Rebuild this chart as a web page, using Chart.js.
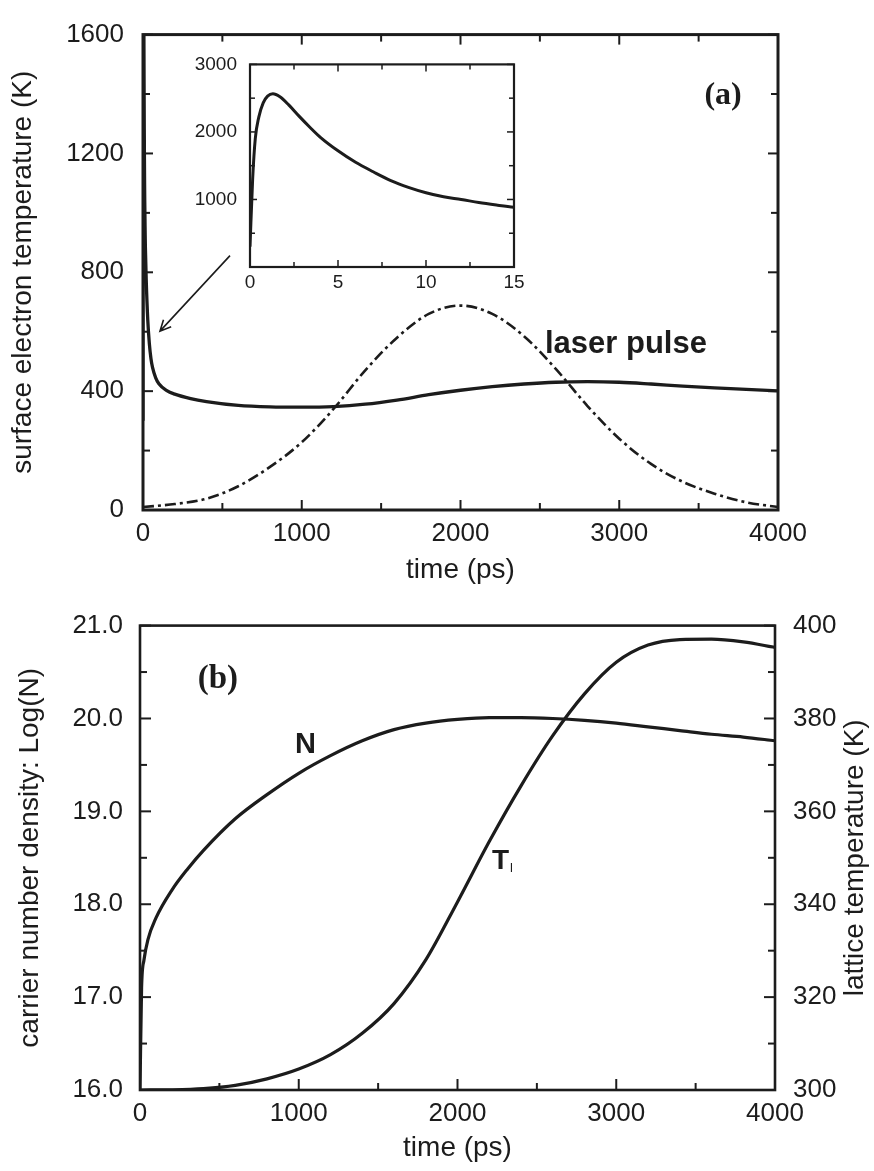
<!DOCTYPE html>
<html>
<head>
<meta charset="utf-8">
<script src="https://cdn.jsdelivr.net/npm/chart.js@4.4.0/dist/chart.umd.min.js"></script>
<style>
  html, body { margin: 0; padding: 0; background: #fff; }
  #page { position: relative; width: 874px; height: 1171px; overflow: hidden; }
  canvas { position: absolute; }
  #chartA { left: 0; top: 0; }
  #chartInset { left: 170px; top: 40px; }
  #chartB { left: 0; top: 592px; }
</style>
</head>
<body>
<div id="page">
  <canvas id="chartA" width="874" height="592"></canvas>
  <canvas id="chartInset" width="370" height="270"></canvas>
  <canvas id="chartB" width="874" height="579"></canvas>
</div>
<script>
// PANEL (a): SURFACE ELECTRON TEMPERATURE (K) VS TIME (ps)
// the inset is the first 15 ps of the same curve
const electronTime = [0, 0.15, 0.3, 0.5, 0.75, 1, 1.3, 1.7, 2.2, 2.8, 3.4, 4, 5, 6, 7, 8, 9, 10, 11, 12, 13, 14, 15, 20, 30, 40, 50, 60, 80, 100, 150, 200, 300, 400, 600, 800, 1000, 1200, 1400, 1600, 1800, 2000, 2200, 2400, 2600, 2800, 3000, 3200, 3400, 3600, 3800, 4000]
const electronTemp = [300, 1300, 1900, 2220, 2430, 2530, 2565, 2520, 2400, 2230, 2070, 1920, 1720, 1550, 1410, 1280, 1180, 1100, 1040, 1000, 955, 918, 885, 780, 640, 560, 510, 480, 445, 425, 402, 390, 375, 365, 352, 347, 346, 348, 356, 370, 388, 403, 415, 424, 430, 432, 430, 424, 417, 411, 406, 401]

// laser pulse (dash-dot), drawn on the same temperature axis
const pulseTime = [0, 200, 400, 600, 800, 1000, 1200, 1400, 1600, 1800, 2000, 2200, 2400, 2600, 2800, 3000, 3200, 3400, 3600, 3800, 4000]
const pulseValue = [10, 20, 38, 80, 145, 228, 340, 470, 580, 660, 688, 660, 585, 475, 350, 240, 155, 95, 55, 26, 10]

// PANEL (b): CARRIER DENSITY Log(N) (left) AND LATTICE TEMPERATURE (right)
const densityTime = [0, 10, 25, 50, 100, 200, 300, 400, 600, 800, 1000, 1200, 1400, 1600, 1800, 2000, 2200, 2400, 2600, 2800, 3000, 3200, 3400, 3600, 3800, 4000]
const densityLog = [16.0, 17.1, 17.4, 17.62, 17.85, 18.15, 18.38, 18.58, 18.92, 19.18, 19.41, 19.6, 19.76, 19.88, 19.95, 19.99, 20.01, 20.01, 20.0, 19.98, 19.95, 19.91, 19.87, 19.83, 19.8, 19.76]

const latticeTime = [0, 200, 400, 600, 800, 1000, 1200, 1400, 1600, 1800, 2000, 2200, 2400, 2600, 2800, 3000, 3200, 3400, 3600, 3800, 4000]
const latticeTemp = [300, 300.05, 300.3, 301, 302.4, 304.5, 307.6, 312.2, 318.6, 328, 340.5, 353.5, 365.5, 376.3, 385.3, 392.1, 395.8, 397, 397.1, 396.5, 395.3]

// TICK LABELS
const timeTicks = [0, 1000, 2000, 3000, 4000]
const electronTicks = [0, 400, 800, 1200, 1600]
const insetTimeTicks = [0, 5, 10, 15]
const insetTempTicks = [1000, 2000, 3000]
const densityTicks = [16, 17, 18, 19, 20, 21]
const latticeTicks = [300, 320, 340, 360, 380, 400]

const ink = "#1c1c1c"
Chart.defaults.font.family = "'Liberation Sans', Arial, sans-serif"
Chart.defaults.color = ink
Chart.defaults.animation = false

const toPoints = (xs, ys) => xs.map((x, i) => ({ x: x, y: ys[i] }))

// FRAME + INWARD MAJOR / MINOR TICKS
const frameTicks = {
  id: "frameTicks",
  afterDatasetsDraw(chart, args, opts) {
    const { ctx, chartArea: a } = chart
    ctx.save()
    ctx.strokeStyle = ink
    ctx.lineWidth = opts.width
    ctx.strokeRect(a.left, a.top, a.right - a.left, a.bottom - a.top)
    ctx.lineWidth = opts.tickWidth
    opts.marks.forEach((m) => {
      const s = chart.scales[m.scale]
      for (let v = s.min; v <= s.max + 1e-9; v += m.minor) {
        const r = v / m.major
        const len = Math.abs(r - Math.round(r)) < 1e-6 ? opts.majorLen : opts.minorLen
        const p = s.getPixelForValue(v)
        ctx.beginPath()
        if (m.side === "bottom") { ctx.moveTo(p, a.bottom); ctx.lineTo(p, a.bottom - len) }
        if (m.side === "top") { ctx.moveTo(p, a.top); ctx.lineTo(p, a.top + len) }
        if (m.side === "left") { ctx.moveTo(a.left, p); ctx.lineTo(a.left + len, p) }
        if (m.side === "right") { ctx.moveTo(a.right, p); ctx.lineTo(a.right - len, p) }
        ctx.stroke()
      }
    })
    ctx.restore()
  },
}

// TEXT NOTES, ARROW, RIGHT AXIS TITLE
const notes = {
  id: "notes",
  afterDraw(chart, args, opts) {
    const ctx = chart.ctx
    ctx.save()
    ctx.fillStyle = ink
    ctx.strokeStyle = ink
    ;(opts.items || []).forEach((n) => {
      const x = chart.scales.x.getPixelForValue(n.x)
      const y = chart.scales.y.getPixelForValue(n.y)
      ctx.font = n.font
      ctx.textAlign = n.align || "left"
      ctx.textBaseline = n.baseline || "alphabetic"
      ctx.fillText(n.text, x, y)
      if (n.sub) {
        const w = ctx.measureText(n.text).width
        ctx.font = n.subFont
        ctx.fillText(n.sub, x + w + 1, y + 3)
      }
    })
    if (opts.arrow) {
      const w = opts.arrow
      const x1 = chart.scales.x.getPixelForValue(w.from[0])
      const y1 = chart.scales.y.getPixelForValue(w.from[1])
      const x2 = chart.scales.x.getPixelForValue(w.to[0])
      const y2 = chart.scales.y.getPixelForValue(w.to[1])
      const ang = Math.atan2(y2 - y1, x2 - x1)
      ctx.lineWidth = 1.6
      ctx.beginPath()
      ctx.moveTo(x1, y1)
      ctx.lineTo(x2, y2)
      ctx.moveTo(x2 - 12 * Math.cos(ang - 0.45), y2 - 12 * Math.sin(ang - 0.45))
      ctx.lineTo(x2, y2)
      ctx.lineTo(x2 - 12 * Math.cos(ang + 0.45), y2 - 12 * Math.sin(ang + 0.45))
      ctx.stroke()
    }
    if (opts.sideTitle) {
      const s = chart.scales[opts.sideTitle.scale]
      const a = chart.chartArea
      ctx.translate(s.right - opts.sideTitle.offset, (a.top + a.bottom) / 2)
      ctx.rotate(-Math.PI / 2)
      ctx.font = opts.sideTitle.font
      ctx.textAlign = "center"
      ctx.textBaseline = "middle"
      ctx.fillText(opts.sideTitle.text, 0, 0)
    }
    ctx.restore()
  },
}

function linearAxis(o) {
  return {
    type: "linear",
    position: o.position,
    min: o.min,
    max: o.max,
    grid: { display: false, drawTicks: false, tickLength: 0 },
    border: { display: false },
    ticks: {
      autoSkip: false,
      maxRotation: 0,
      padding: o.pad,
      font: { size: o.size },
      callback: o.format || ((v) => v),
    },
    title: o.title
      ? { display: true, text: o.title, font: { size: 28 }, padding: o.titlePad, color: ink }
      : { display: false },
    afterBuildTicks: (s) => {
      s.ticks = o.ticks.map((v) => ({ value: v }))
    },
    afterFit: (s) => {
      if (o.width !== undefined) s.width = o.width
      if (o.height !== undefined) s.height = o.height
    },
  }
}

// PANEL (a)
new Chart(document.getElementById("chartA"), {
  type: "line",
  data: {
    datasets: [
      {
        data: toPoints(electronTime, electronTemp),
        borderColor: ink,
        borderWidth: 3.3,
        pointRadius: 0,
        cubicInterpolationMode: "monotone",
      },
      {
        data: toPoints(pulseTime, pulseValue),
        borderColor: ink,
        borderWidth: 2.6,
        borderDash: [11, 4, 3, 4],
        pointRadius: 0,
        cubicInterpolationMode: "monotone",
      },
    ],
  },
  options: {
    responsive: false,
    layout: { padding: { left: 0, top: 24, right: 96, bottom: 0 } },
    plugins: {
      legend: { display: false },
      tooltip: { enabled: false },
      frameTicks: {
        width: 3,
        tickWidth: 2,
        majorLen: 10,
        minorLen: 7,
        marks: [
          { scale: "x", side: "bottom", major: 1000, minor: 500 },
          { scale: "x", side: "top", major: 1000, minor: 500 },
          { scale: "y", side: "left", major: 400, minor: 200 },
          { scale: "y", side: "right", major: 400, minor: 200 },
        ],
      },
      notes: {
        items: [
          { text: "(a)", x: 3654, y: 1393, font: "bold 32px 'Liberation Serif', serif", align: "center", baseline: "middle" },
          { text: "laser pulse", x: 2532, y: 527, font: "bold 31px 'Liberation Sans', Arial, sans-serif" },
        ],
        arrow: { from: [548, 856], to: [107, 602] },
      },
    },
    scales: {
      x: linearAxis({ position: "bottom", min: 0, max: 4000, ticks: timeTicks, pad: 8.4, size: 26, title: "time (ps)", titlePad: { bottom: 5 }, height: 82 }),
      y: linearAxis({ position: "left", min: 0, max: 1600, ticks: electronTicks, pad: 19, size: 26, title: "surface electron temperature (K)", titlePad: { top: 6.5 }, width: 143 }),
    },
  },
  plugins: [frameTicks, notes],
})

// INSET (first 15 ps)
new Chart(document.getElementById("chartInset"), {
  type: "line",
  data: {
    datasets: [
      {
        data: toPoints(electronTime, electronTemp),
        borderColor: ink,
        borderWidth: 3,
        pointRadius: 0,
        cubicInterpolationMode: "monotone",
      },
    ],
  },
  options: {
    responsive: false,
    layout: { padding: { left: 0, top: 24, right: 26, bottom: 0 } },
    plugins: {
      legend: { display: false },
      tooltip: { enabled: false },
      frameTicks: {
        width: 2.2,
        tickWidth: 1.5,
        majorLen: 7,
        minorLen: 5,
        marks: [
          { scale: "x", side: "bottom", major: 5, minor: 2.5 },
          { scale: "x", side: "top", major: 5, minor: 2.5 },
          { scale: "y", side: "left", major: 1000, minor: 500 },
          { scale: "y", side: "right", major: 1000, minor: 500 },
        ],
      },
    },
    scales: {
      x: linearAxis({ position: "bottom", min: 0, max: 15, ticks: insetTimeTicks, pad: 4.6, size: 19, height: 43 }),
      y: linearAxis({ position: "left", min: 0, max: 3000, ticks: insetTempTicks, pad: 13, size: 19, width: 80 }),
    },
  },
  plugins: [frameTicks],
})

// PANEL (b)
new Chart(document.getElementById("chartB"), {
  type: "line",
  data: {
    datasets: [
      {
        data: toPoints(densityTime, densityLog),
        yAxisID: "y",
        borderColor: ink,
        borderWidth: 3.2,
        pointRadius: 0,
        cubicInterpolationMode: "monotone",
      },
      {
        data: toPoints(latticeTime, latticeTemp),
        yAxisID: "y2",
        borderColor: ink,
        borderWidth: 3.2,
        pointRadius: 0,
        cubicInterpolationMode: "monotone",
      },
    ],
  },
  options: {
    responsive: false,
    layout: { padding: { left: 0, top: 16, right: 0, bottom: 0 } },
    plugins: {
      legend: { display: false },
      tooltip: { enabled: false },
      frameTicks: {
        width: 2.6,
        tickWidth: 2,
        majorLen: 11,
        minorLen: 7,
        marks: [
          { scale: "x", side: "bottom", major: 1000, minor: 500 },
          { scale: "y", side: "left", major: 1, minor: 0.5 },
          { scale: "y2", side: "right", major: 20, minor: 10 },
        ],
      },
      notes: {
        items: [
          { text: "(b)", x: 491, y: 20.42, font: "bold 33px 'Liberation Serif', serif", align: "center", baseline: "middle" },
          { text: "N", x: 976, y: 19.63, font: "bold 29px 'Liberation Sans', Arial, sans-serif" },
          { text: "T", x: 2217, y: 18.38, font: "bold 28px 'Liberation Sans', Arial, sans-serif", sub: "l", subFont: "13px 'Liberation Sans', Arial, sans-serif" },
        ],
        sideTitle: { scale: "y2", offset: 19, text: "lattice temperature (K)", font: "28px 'Liberation Sans', Arial, sans-serif" },
      },
    },
    scales: {
      x: linearAxis({ position: "bottom", min: 0, max: 4000, ticks: timeTicks, pad: 8.4, size: 26, title: "time (ps)", titlePad: { bottom: 6 }, height: 81 }),
      y: linearAxis({ position: "left", min: 16, max: 21, ticks: densityTicks, pad: 17, size: 26, format: (v) => v.toFixed(1), title: "carrier number density: Log(N)", titlePad: { top: 13.5 }, width: 140 }),
      y2: linearAxis({ position: "right", min: 300, max: 400, ticks: latticeTicks, pad: 18, size: 26, width: 99 }),
    },
  },
  plugins: [frameTicks, notes],
})
</script>
</body>
</html>
